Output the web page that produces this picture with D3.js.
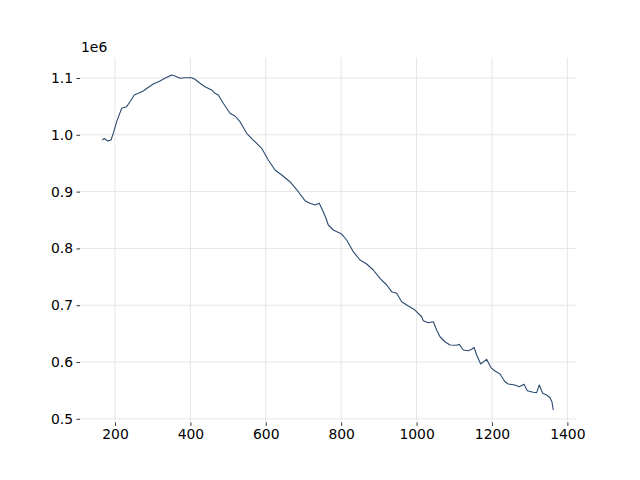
<!DOCTYPE html>
<html>
<head>
<meta charset="utf-8">
<script src="https://cdn.jsdelivr.net/npm/d3@7"></script>
<style>
  html, body { margin: 0; padding: 0; background: #fff; }
  svg { display: block; }
  text { font-family: "DejaVu Sans", sans-serif; }
</style>
</head>
<body>
<svg id="chart" width="640" height="480"></svg>
<script>
const xValues = [166.3,171.6,180.6,189.4,195.5,204.5,217.8,231.0,239.8,251.2,261.8,275.1,286.7,301.6,319.4,332.6,350.4,359.2,372.4,385.7,403.4,412.2,425.5,438.7,456.5,465.3,474.0,487.3,505.0,518.3,531.6,549.3,566.8,589.1,606.6,624.4,642.2,664.2,686.2,704.0,717.2,730.5,741.9,752.5,759.7,765.8,779.0,801.3,814.6,832.1,849.9,867.6,885.1,902.9,920.7,933.9,947.2,960.5,978.0,995.8,1013.5,1017.8,1031.0,1044.3,1053.3,1062.1,1075.3,1088.6,1106.4,1113.3,1123.9,1137.1,1146.2,1152.3,1159.4,1170.0,1185.9,1196.6,1208.0,1221.2,1234.5,1243.2,1261.0,1272.4,1284.9,1293.6,1309.5,1318.6,1325.4,1334.5,1345.1,1353.8,1359.1,1362.6];
const yValues = [990800,993800,989100,990800,1002600,1023100,1046700,1049500,1058300,1070100,1073100,1077100,1082900,1089400,1094700,1099500,1105300,1103500,1099500,1100500,1100500,1097700,1090700,1084700,1078900,1073100,1070100,1055500,1037900,1033100,1023100,1002600,990800,976200,955600,938000,929200,917400,899800,884000,879400,876400,879400,864600,853000,841200,832400,825300,814800,794200,779600,772500,762000,747300,735600,723800,720900,706100,698600,691500,679700,672700,669200,670900,656300,644500,635700,629900,629400,631100,621100,619900,622300,625900,612300,596500,604700,590700,584200,578900,565300,561300,559500,556500,560700,549500,546700,546000,559500,544900,541900,537100,530100,515500];
const xTicks = [200,400,600,800,1000,1200,1400];
const yTicks = [500000,600000,700000,800000,900000,1000000,1100000];
const yTickLabels = ["0.5","0.6","0.7","0.8","0.9","1.0","1.1"];
const offsetLabel = "1e6";

const data = xValues.map((x, i) => ({x, y: yValues[i]}));

const plotL = 80, plotR = 576, plotT = 57.6, plotB = 422.4;
const svg = d3.select("#chart");

const x = d3.scaleLinear().domain([107.2, 1422.9]).range([plotL, plotR]);
const y = d3.scaleLinear().domain([493700, 1135900]).range([plotB, plotT]);

// grid
const grid = svg.append("g");
grid.selectAll("line.v").data(xTicks).join("line")
  .attr("class", "v")
  .attr("x1", d => x(d)).attr("x2", d => x(d))
  .attr("y1", plotT).attr("y2", plotB)
  .attr("stroke", "#e6e6e6").attr("stroke-width", 1);
grid.selectAll("line.h").data(yTicks).join("line")
  .attr("class", "h")
  .attr("x1", plotL).attr("x2", plotR)
  .attr("y1", d => y(d)).attr("y2", d => y(d))
  .attr("stroke", "#e6e6e6").attr("stroke-width", 1);

// axes
const xAxis = d3.axisBottom(x).tickValues(xTicks).tickSize(3.5).tickPadding(3.5).tickFormat(d3.format("d"));
const gx = svg.append("g").attr("transform", `translate(0,${plotB})`).call(xAxis);
const yAxis = d3.axisLeft(y).tickValues(yTicks).tickSize(3.5).tickPadding(3.5).tickFormat((d, i) => yTickLabels[i]);
const gy = svg.append("g").attr("transform", `translate(${plotL},0)`).call(yAxis);
[gx, gy].forEach(g => {
  g.select(".domain").remove();
  g.selectAll(".tick line").attr("stroke", "#000").attr("stroke-width", 0.8);
  g.selectAll(".tick text").attr("font-family", "DejaVu Sans, sans-serif").attr("font-size", 13.9).attr("fill", "#000");
});

svg.append("text").attr("x", plotL + 1).attr("y", 52)
  .attr("font-size", 13.9).attr("fill", "#000").text(offsetLabel);

// line
const line = d3.line().x(d => x(d.x)).y(d => y(d.y)).curve(d3.curveLinear);
svg.append("path").datum(data)
  .attr("d", line).attr("fill", "none")
  .attr("stroke", "#2a4a6e").attr("stroke-width", 1.1)
  .attr("stroke-linejoin", "round");
</script>
</body>
</html>
